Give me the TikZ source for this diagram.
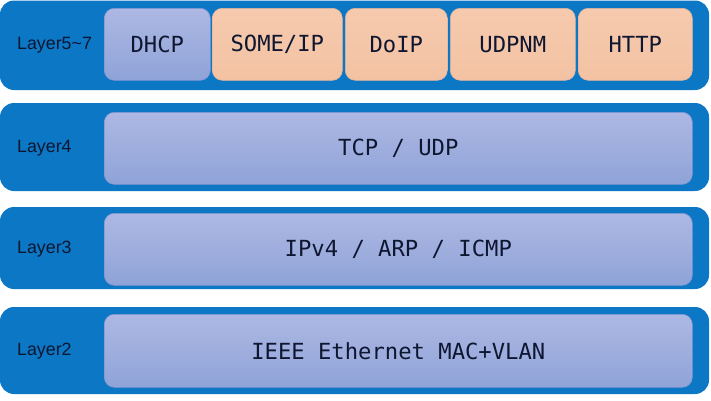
\documentclass[tikz,border=0pt]{standalone}
\usepackage{fontspec}
\setmainfont{Liberation Sans}
\newfontfamily\boxfont{DejaVu Sans Mono}
\definecolor{bandblue}{HTML}{0B77C5}
\definecolor{lavtop}{HTML}{ADB8E3}
\definecolor{lavbot}{HTML}{8FA3D8}
\definecolor{lavedge}{HTML}{7F95CF}
\definecolor{peach}{HTML}{F6CAAE}
\definecolor{peachbot}{HTML}{F3C2A3}
\definecolor{peachedge}{HTML}{E2B49A}
\definecolor{txt}{HTML}{0E1630}
\tikzset{
  band/.style={fill=bandblue, rounded corners=14pt, draw=none},
  lbl/.style={anchor=west, text=txt, font=\fontsize{17.8}{20}\selectfont, inner sep=0pt},
  lavbox/.style={anchor=north west, rounded corners=10pt, top color=lavtop, bottom color=lavbot,
    draw=lavedge, line width=0.6pt, text=txt, font=\boxfont\fontsize{22.2}{24}\selectfont, inner sep=0pt},
  peachbox/.style={lavbox, top color=peach, bottom color=peachbot, draw=peachedge}
}
\begin{document}
\begin{tikzpicture}[x=1pt,y=-1pt]
\useasboundingbox (0,0) rectangle (711,400);
% bands
\path[band] (0,0.5) rectangle (709,90);
\path[band] (0,103) rectangle (709,191);
\path[band] (0,207) rectangle (709,289);
\path[band] (0,307) rectangle (709,394);
% labels
\node[lbl] (l57) at (17,45) {Layer5\textasciitilde7};
\node[lbl] (l4) at (17,148) {Layer4};
\node[lbl] (l3) at (17,249) {Layer3};
\node[lbl] (l2) at (17,351) {Layer2};
% top row
\node[lavbox, minimum width=106pt, minimum height=72pt] (dhcp) at (104,8) {DHCP};
\node[peachbox, minimum width=130pt, minimum height=72pt] (someip) at (212,8) {SOME/IP};
\node[peachbox, minimum width=102pt, minimum height=72pt] (doip) at (345,8) {DoIP};
\node[peachbox, minimum width=125pt, minimum height=72pt] (udpnm) at (450,8) {UDPNM};
\node[peachbox, minimum width=114pt, minimum height=72pt] (http) at (578,8) {HTTP};
% wide rows
\node[lavbox, minimum width=588pt, minimum height=72pt] (tcp) at (104,112) {TCP / UDP};
\node[lavbox, minimum width=588pt, minimum height=72pt] (ip) at (104,213) {IPv4 / ARP / ICMP};
\node[lavbox, minimum width=588pt, minimum height=73pt] (eth) at (104,314) {IEEE Ethernet MAC+VLAN};
\end{tikzpicture}
\end{document}
